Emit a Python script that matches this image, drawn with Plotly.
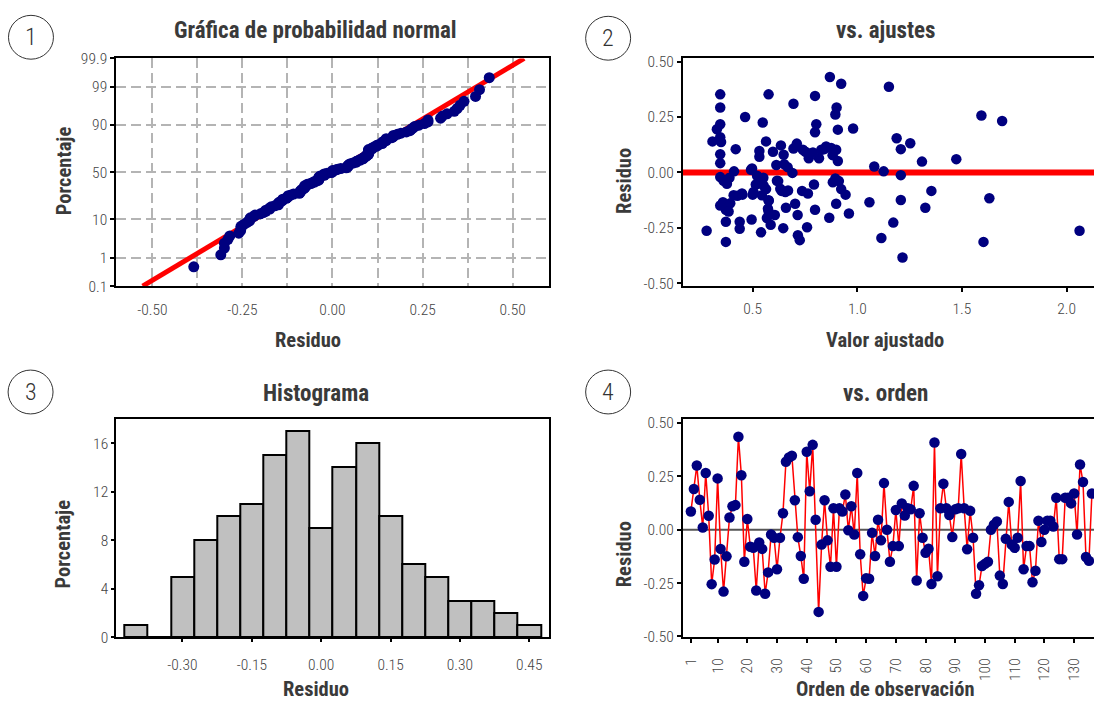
import plotly.graph_objects as go
from statistics import NormalDist

W, H = 1094, 708

# ---------------- data ----------------
# residuals in observation order (panel 4)
residuals = [
    0.085, 0.19, 0.30, 0.14, 0.01, 0.265, 0.065, -0.255, -0.14, 0.24,
    -0.09, -0.29, -0.125, 0.057, 0.11, 0.115, 0.435, 0.255, -0.15, 0.05,
    -0.08, -0.085, -0.285, -0.06, -0.09, -0.30, -0.20, -0.023, -0.038, -0.185,
    -0.038, 0.077, 0.318, 0.338, 0.346, 0.138, -0.035, -0.123, -0.23, 0.365,
    0.18, 0.397, 0.046, -0.385, -0.07, 0.138, -0.05, -0.174, 0.10, -0.174,
    0.10, 0.085, 0.165, -0.003, 0.11, -0.023, 0.265, -0.115, -0.31, -0.228,
    -0.23, -0.015, -0.123, 0.046, -0.05, 0.218, 0.0, -0.15, -0.077, 0.092,
    -0.077, 0.123, 0.066, 0.10, 0.095, 0.205, -0.238, 0.077, -0.038, -0.108,
    -0.089, -0.254, 0.408, -0.218, 0.10, 0.215, 0.10, 0.069, -0.034, 0.095,
    0.10, 0.354, 0.10, -0.092, 0.088, -0.038, -0.30, -0.26, -0.17, -0.16,
    -0.15, 0.0, 0.023, 0.038, -0.215, -0.254, -0.043, 0.13, -0.07, -0.085,
    -0.038, 0.228, -0.185, -0.077, -0.077, -0.246, -0.192, 0.042, -0.058, 0.0,
    0.042, 0.042, 0.015, 0.149, -0.138, -0.138, 0.149, 0.149, 0.123, 0.169,
    -0.023, 0.305, 0.223, -0.128, -0.146, 0.169,
]
observation = list(range(1, len(residuals) + 1))

# fitted value / residual pairs (panel 2)
fitted_values = [
    0.280, 0.345, 0.345, 0.345, 0.329, 0.308, 0.345, 0.349, 0.345, 0.345,
    0.345, 0.370, 0.389, 0.411, 0.345, 0.358, 0.372, 0.372, 0.372, 0.419,
    0.427, 0.438, 0.438, 0.451, 0.464, 0.492, 0.495, 0.500, 0.515, 0.532,
    0.532, 0.540, 0.548, 0.551, 0.564, 0.564, 0.573, 0.576, 0.577, 0.586,
    0.597, 0.606, 0.613, 0.622, 0.635, 0.638, 0.646, 0.651, 0.659, 0.667,
    0.690, 0.695, 0.695, 0.703, 0.711, 0.715, 0.716, 0.725, 0.736, 0.752,
    0.760, 0.768, 0.777, 0.788, 0.793, 0.798, 0.798, 0.798, 0.804, 0.817,
    0.842, 0.866, 0.869, 0.882, 0.895, 0.895, 0.901, 0.907, 0.907, 0.899,
    0.912, 0.923, 0.923, 0.944, 0.960, 0.980, 1.058, 1.081, 1.115, 1.126,
    1.151, 1.172, 1.188, 1.208, 1.208, 1.208, 1.216, 1.253, 1.309, 1.325,
    1.354, 1.473, 1.593, 1.603, 1.631, 1.692, 2.062,
    0.497, 0.521, 0.536, 0.552, 0.504, 0.544, 0.576, 0.616, 0.632, 0.656,
    0.409, 0.449, 0.393, 0.385, 0.576, 0.568, 0.648,
    0.851, 0.875, 0.899, 0.883, 0.764, 0.669, 0.740, 0.828, 0.361, 0.377,
]
fitted_residuals = [
    -0.263, 0.352, 0.293, 0.217, 0.195, 0.140, 0.159, 0.137, 0.082, 0.042,
    -0.021, -0.039, -0.024, 0.005, -0.149, -0.134, -0.168, -0.222, -0.313, 0.105,
    -0.105, -0.222, -0.254, -0.100, 0.250, 0.012, -0.212, -0.100, -0.054, 0.071,
    0.097, -0.270, 0.225, -0.024, 0.140, -0.075, -0.163, 0.352, -0.127, -0.236,
    0.093, -0.192, 0.034, -0.039, 0.122, -0.083, -0.251, 0.037, -0.159, 0.024,
    -0.002, 0.310, 0.108, -0.141, 0.130, -0.192, -0.283, -0.305, -0.083, 0.093,
    -0.247, 0.064, 0.086, 0.090, -0.054, 0.181, 0.345, -0.168, 0.217, 0.064,
    0.105, -0.204, 0.430, 0.078, 0.261, -0.027, 0.293, 0.193, 0.052, -0.141,
    -0.039, 0.400, -0.075, -0.100, -0.185, 0.198, -0.134, 0.027, -0.295, 0.005,
    0.386, -0.226, 0.154, 0.105, -0.012, -0.124, -0.383, 0.132, 0.049, -0.159,
    -0.083, 0.060, 0.257, -0.313, -0.116, 0.232, -0.263,
    0.018, -0.015, -0.037, -0.059, -0.088, -0.103, -0.125, -0.037, -0.073, -0.088,
    -0.103, -0.095, -0.139, -0.176, -0.176, -0.205, 0.080,
    0.117, 0.110, 0.102, -0.044, -0.095, -0.081, 0.102, 0.102, -0.037, -0.051,
]

# histogram (panel 3)
hist_bin_centers = [-0.40, -0.35, -0.30, -0.25, -0.20, -0.15, -0.10, -0.05, 0.00,
                    0.05, 0.10, 0.15, 0.20, 0.25, 0.30, 0.35, 0.40, 0.45]
hist_counts = [1, 0, 5, 8, 10, 11, 15, 17, 9, 14, 16, 10, 6, 5, 3, 3, 2, 1]
hist_bin_width = 0.05

# normal probability plot (panel 1)
prob_tick_pct = [0.1, 1, 10, 50, 90, 99, 99.9]
prob_tick_text = ["0.1", "1", "10", "50", "90", "99", "99.9"]
fit_mean = 0.0025
fit_sd = 0.1713

resid_ticks = [-0.50, -0.25, 0.00, 0.25, 0.50]
resid_tick_text = ["-0.50", "-0.25", "0.00", "0.25", "0.50"]
fitted_ticks = [0.5, 1.0, 1.5, 2.0]
fitted_tick_text = ["0.5", "1.0", "1.5", "2.0"]
hist_x_ticks = [-0.30, -0.15, 0.00, 0.15, 0.30, 0.45]
hist_x_text = ["-0.30", "-0.15", "0.00", "0.15", "0.30", "0.45"]
hist_y_ticks = [0, 4, 8, 12, 16]
order_ticks = [1, 10, 20, 30, 40, 50, 60, 70, 80, 90, 100, 110, 120, 130]

# ---------------- derived (normal scores) ----------------
nd = NormalDist()
n = len(residuals)
sorted_res = sorted(residuals)
prob_z = [nd.inv_cdf((i + 1 - 0.3) / (n + 0.4)) for i in range(n)]
zmax = nd.inv_cdf(0.999)
prob_tick_z = [nd.inv_cdf(p / 100.0) for p in prob_tick_pct]
line_z = [-zmax, zmax]
line_x = [fit_mean + fit_sd * z for z in line_z]

# ---------------- styling helpers ----------------
FONT = "Roboto Condensed, Roboto, Liberation Sans, sans-serif"
NAVY = "#00007f"
TICKFONT = dict(family=FONT, size=15.5, color="#444444", weight=300)


def px(x):
    return x / W


def py(y):
    return 1 - y / H


def axis_style(**kw):
    d = dict(showline=True, linecolor="black", linewidth=2, ticks="outside",
             ticklen=4, tickwidth=1.5, tickcolor="black", tickfont=TICKFONT,
             showgrid=False, zeroline=False, layer="above traces")
    d.update(kw)
    return d


fig = go.Figure()

# panel 1
fig.add_trace(go.Scatter(x=line_x, y=line_z, mode="lines",
                         line=dict(color="#ff0000", width=5),
                         xaxis="x", yaxis="y", showlegend=False, hoverinfo="skip"))
fig.add_trace(go.Scatter(x=sorted_res, y=prob_z, mode="markers",
                         marker=dict(color=NAVY, size=11),
                         xaxis="x", yaxis="y", showlegend=False))

# panel 2
fig.add_trace(go.Scatter(x=[0.0, 3.0], y=[0, 0], mode="lines",
                         line=dict(color="#ff0000", width=6),
                         xaxis="x2", yaxis="y2", showlegend=False, hoverinfo="skip"))
fig.add_trace(go.Scatter(x=fitted_values, y=fitted_residuals, mode="markers",
                         marker=dict(color=NAVY, size=10.5),
                         xaxis="x2", yaxis="y2", showlegend=False))

# panel 3
fig.add_trace(go.Bar(x=hist_bin_centers, y=hist_counts, width=hist_bin_width,
                     marker=dict(color="#c0c0c0", line=dict(color="black", width=2)),
                     xaxis="x3", yaxis="y3", showlegend=False))

# panel 4
fig.add_trace(go.Scatter(x=[-10, 200], y=[0, 0], mode="lines",
                         line=dict(color="#555555", width=2),
                         xaxis="x4", yaxis="y4", showlegend=False, hoverinfo="skip"))
fig.add_trace(go.Scatter(x=observation, y=residuals, mode="lines+markers",
                         line=dict(color="#ff0000", width=1.5),
                         marker=dict(color=NAVY, size=10.5),
                         xaxis="x4", yaxis="y4", showlegend=False))

top_dom = [py(284.3), py(50.7)]
bot_dom = [py(644.5), py(420.7)]
left_dom = [px(115.4), px(548.2)]
right_dom = [px(682.6), 1.0]

grid_kw = dict(showgrid=True, gridcolor="#b4b4b4", gridwidth=1.5, griddash="10px,5px")

fig.update_layout(
    width=W, height=H, margin=dict(l=0, r=0, t=0, b=0),
    paper_bgcolor="white", plot_bgcolor="white",
    font=dict(family=FONT, color="#333333"),
    bargap=0,
    xaxis=axis_style(domain=left_dom, anchor="y", range=[-0.6, 0.6],
                     tickvals=resid_ticks, ticktext=resid_tick_text, ticks="",
                     ticklabelstandoff=8,
                     mirror=True, **grid_kw,
                     minor=dict(dtick=0.125, tick0=0, showgrid=True, gridcolor="#b4b4b4",
                                gridwidth=1.5, griddash="10px,5px", ticks="")),
    yaxis=axis_style(domain=top_dom, anchor="x", range=[-zmax, zmax],
                     tickvals=prob_tick_z, ticktext=prob_tick_text, mirror=True, **grid_kw),
    xaxis2=axis_style(domain=right_dom, anchor="y2", range=[0.167, 2.131],
                      tickvals=fitted_ticks, ticktext=fitted_tick_text, mirror=True,
                      ticklabelstandoff=3),
    yaxis2=axis_style(domain=top_dom, anchor="x2", range=[-0.512, 0.514],
                      tickvals=resid_ticks, ticktext=resid_tick_text),
    xaxis3=axis_style(domain=left_dom, anchor="y3", range=[-0.443, 0.492],
                      tickvals=hist_x_ticks, ticktext=hist_x_text, mirror=True, ticklen=3,
                      ticklabelstandoff=9),
    yaxis3=axis_style(domain=bot_dom, anchor="x3", range=[0, 18],
                      tickvals=hist_y_ticks, mirror=True, ticklen=3),
    xaxis4=axis_style(domain=right_dom, anchor="y4", range=[-1.66, 136.7],
                      tickvals=order_ticks, tickangle=-90, mirror=True,
                      ticklabelstandoff=9),
    yaxis4=axis_style(domain=bot_dom, anchor="x4", range=[-0.503, 0.518],
                      tickvals=resid_ticks, ticktext=resid_tick_text),
)

annotations = []


def add_text(text, x, y, size, angle=0, bold=True, color="#3a3a3a"):
    annotations.append(dict(
        text=("<b>%s</b>" % text) if bold else text,
        x=px(x), y=py(y), xref="paper", yref="paper",
        xanchor="center", yanchor="middle", showarrow=False, textangle=angle,
        font=dict(family=FONT, size=size, color=color)))


add_text("Gráfica de probabilidad normal", 315, 22, 23)
add_text("vs. ajustes", 885, 22, 23)
add_text("Histograma", 315, 395, 23)
add_text("vs. orden", 885, 395, 23)
add_text("Porcentaje", 62.5, 166, 20.5, angle=-90)
add_text("Residuo", 307, 340, 20.5)
add_text("Residuo", 623, 176, 20.5, angle=-90)
add_text("Valor ajustado", 885, 340, 20.5)
add_text("Porcentaje", 62.5, 549, 20.5, angle=-90)
add_text("Residuo", 315, 698, 20.5)
add_text("Residuo", 623, 559, 20.5, angle=-90)
add_text("Orden de observación", 885, 698, 20.5)

shapes = []
for num, (cx, cy) in zip(["1", "2", "3", "4"], [(30, 29), (607.7, 30), (29.6, 393), (607.7, 393)]):
    r = 22.5
    shapes.append(dict(type="circle", xref="paper", yref="paper",
                       x0=px(cx - r), x1=px(cx + r), y0=py(cy + r), y1=py(cy - r),
                       line=dict(color="#333333", width=1)))
    annotations.append(dict(text=num, x=px(cx), y=py(cy), xref="paper", yref="paper",
                            xanchor="center", yanchor="middle", showarrow=False,
                            font=dict(family=FONT, size=24, color="#333333", weight=300)))

fig.update_layout(annotations=annotations, shapes=shapes)

fig.write_html("out.html", config={"displayModeBar": False},
               post_script="document.body.style.margin='0';document.body.style.overflow='hidden';")
